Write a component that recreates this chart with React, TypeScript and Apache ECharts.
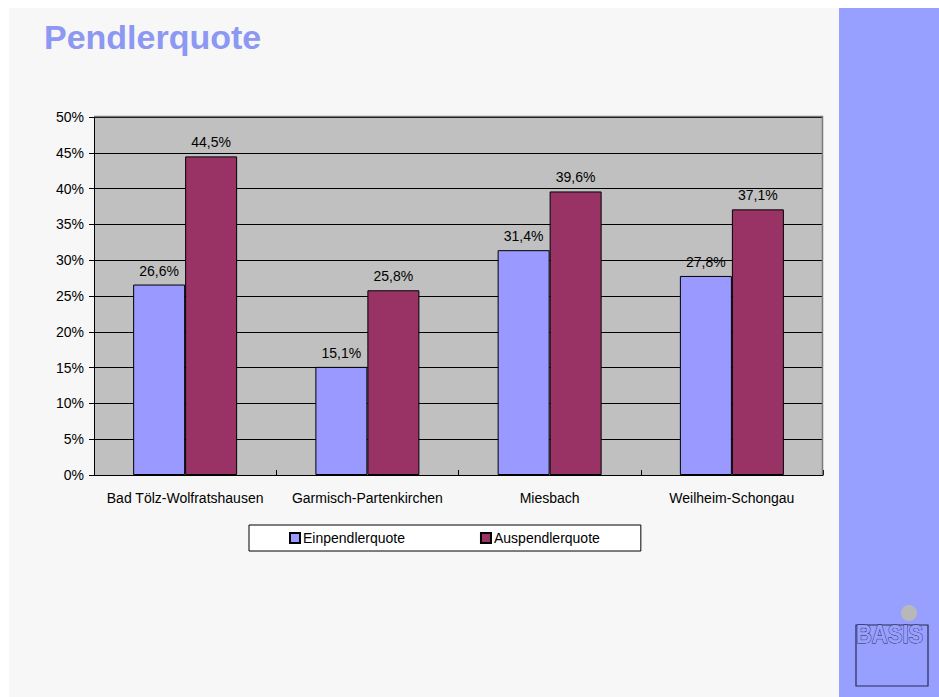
import React, { useEffect, useRef } from "react";
import * as echarts from "echarts";

const categories = ["Bad Tölz-Wolfratshausen", "Garmisch-Partenkirchen", "Miesbach", "Weilheim-Schongau"];
const einpendler = [26.6, 15.1, 31.4, 27.8];
const auspendler = [44.5, 25.8, 39.6, 37.1];
const seriesNames = ["Einpendlerquote", "Auspendlerquote"];
const yTicks = { min: 0, max: 50, interval: 5 };

const FONT = "'Liberation Sans', Arial, Helvetica, sans-serif";

export default function App() {
  const ref = useRef<HTMLDivElement>(null);
  useEffect(() => {
    if (!ref.current) return;
    const chart = echarts.init(ref.current, null, { renderer: "svg" });
    const fmt = (v: number) => v.toFixed(1).replace(".", ",") + "%";
    chart.setOption({
      animation: false,
      backgroundColor: "#ffffff",
      textStyle: { fontFamily: FONT },
      graphic: [
        { type: "rect", z: -10, shape: { x: 9, y: 8, width: 830, height: 689 }, style: { fill: "#f7f7f7" } },
        { type: "rect", z: -10, shape: { x: 839, y: 8, width: 100, height: 689 }, style: { fill: "#97a0ff" } },
        {
          type: "text",
          left: 44,
          top: 20,
          style: { text: "Pendlerquote", fill: "#8c98f2", font: "bold 34px " + FONT },
        },
        // plot background
        { type: "rect", z: -5, shape: { x: 94, y: 117, width: 729, height: 358 }, style: { fill: "#c0c0c0" } },
        { type: "polyline", z: 50, shape: { points: [[94, 116.5], [822.5, 116.5], [822.5, 475]] }, style: { fill: "none", stroke: "#7a7a7a", lineWidth: 1.5 } },
        // logo
        { type: "circle", shape: { cx: 909, cy: 613, r: 8 }, style: { fill: "#b8b8b8" } },
        { type: "rect", shape: { x: 856, y: 625, width: 72, height: 61 }, style: { fill: "none", stroke: "#2a2a50", lineWidth: 1.2 } },
        {
          type: "text",
          x: 856,
          y: 622,
          scaleX: 1.0,
          scaleY: 1.15,
          style: { text: "BASIS", fill: "#97a0ff", stroke: "#2a2a50", lineWidth: 0.8, font: "bold 22px " + FONT },
        },
      ],
      grid: { left: 94, top: 117, width: 729, height: 358, containLabel: false },
      legend: {
        left: 249,
        top: 525,
        data: seriesNames,
        backgroundColor: "#ffffff",
        borderColor: "#000000",
        borderWidth: 1,
        padding: [6, 41, 6, 40],
        itemGap: 75,
        itemWidth: 10,
        itemHeight: 10,
        textStyle: { fontSize: 14, color: "#000", fontFamily: FONT, padding: [0, 0, 0, -2] },
        icon: "rect",
      },
      xAxis: {
        type: "category",
        data: categories,
        axisLine: { lineStyle: { color: "#000", width: 1 } },
        axisTick: { show: true, inside: true, length: 5, interval: 0, lineStyle: { color: "#000" } },
        axisLabel: { color: "#000", fontSize: 14, margin: 16, interval: 0, fontFamily: FONT },
      },
      yAxis: {
        type: "value",
        min: yTicks.min,
        max: yTicks.max,
        interval: yTicks.interval,
        axisLine: { show: true, lineStyle: { color: "#000", width: 1 } },
        axisTick: { show: true, length: 5, lineStyle: { color: "#000" } },
        axisLabel: { color: "#000", fontSize: 14, margin: 10, fontFamily: FONT, formatter: (v: number) => v + "%" },
        splitLine: { show: true, lineStyle: { color: "#000", width: 1 } },
      },
      series: [
        {
          name: seriesNames[0],
          type: "bar",
          data: einpendler,
          barWidth: 52,
          barGap: "0%",
          itemStyle: { color: "#9999ff", borderColor: "#000", borderWidth: 1 },
          label: { show: true, position: "top", distance: 7, color: "#000", fontSize: 14, fontFamily: FONT, formatter: (p: any) => fmt(p.value) },
        },
        {
          name: seriesNames[1],
          type: "bar",
          data: auspendler,
          barWidth: 52,
          barGap: "0%",
          itemStyle: { color: "#993366", borderColor: "#000", borderWidth: 1 },
          label: { show: true, position: "top", distance: 7, color: "#000", fontSize: 14, fontFamily: FONT, formatter: (p: any) => fmt(p.value) },
        },
      ],
    });
    return () => chart.dispose();
  }, []);
  return <div ref={ref} style={{ position: "fixed", left: 0, top: 0, width: 939, height: 697 }} />;
}
